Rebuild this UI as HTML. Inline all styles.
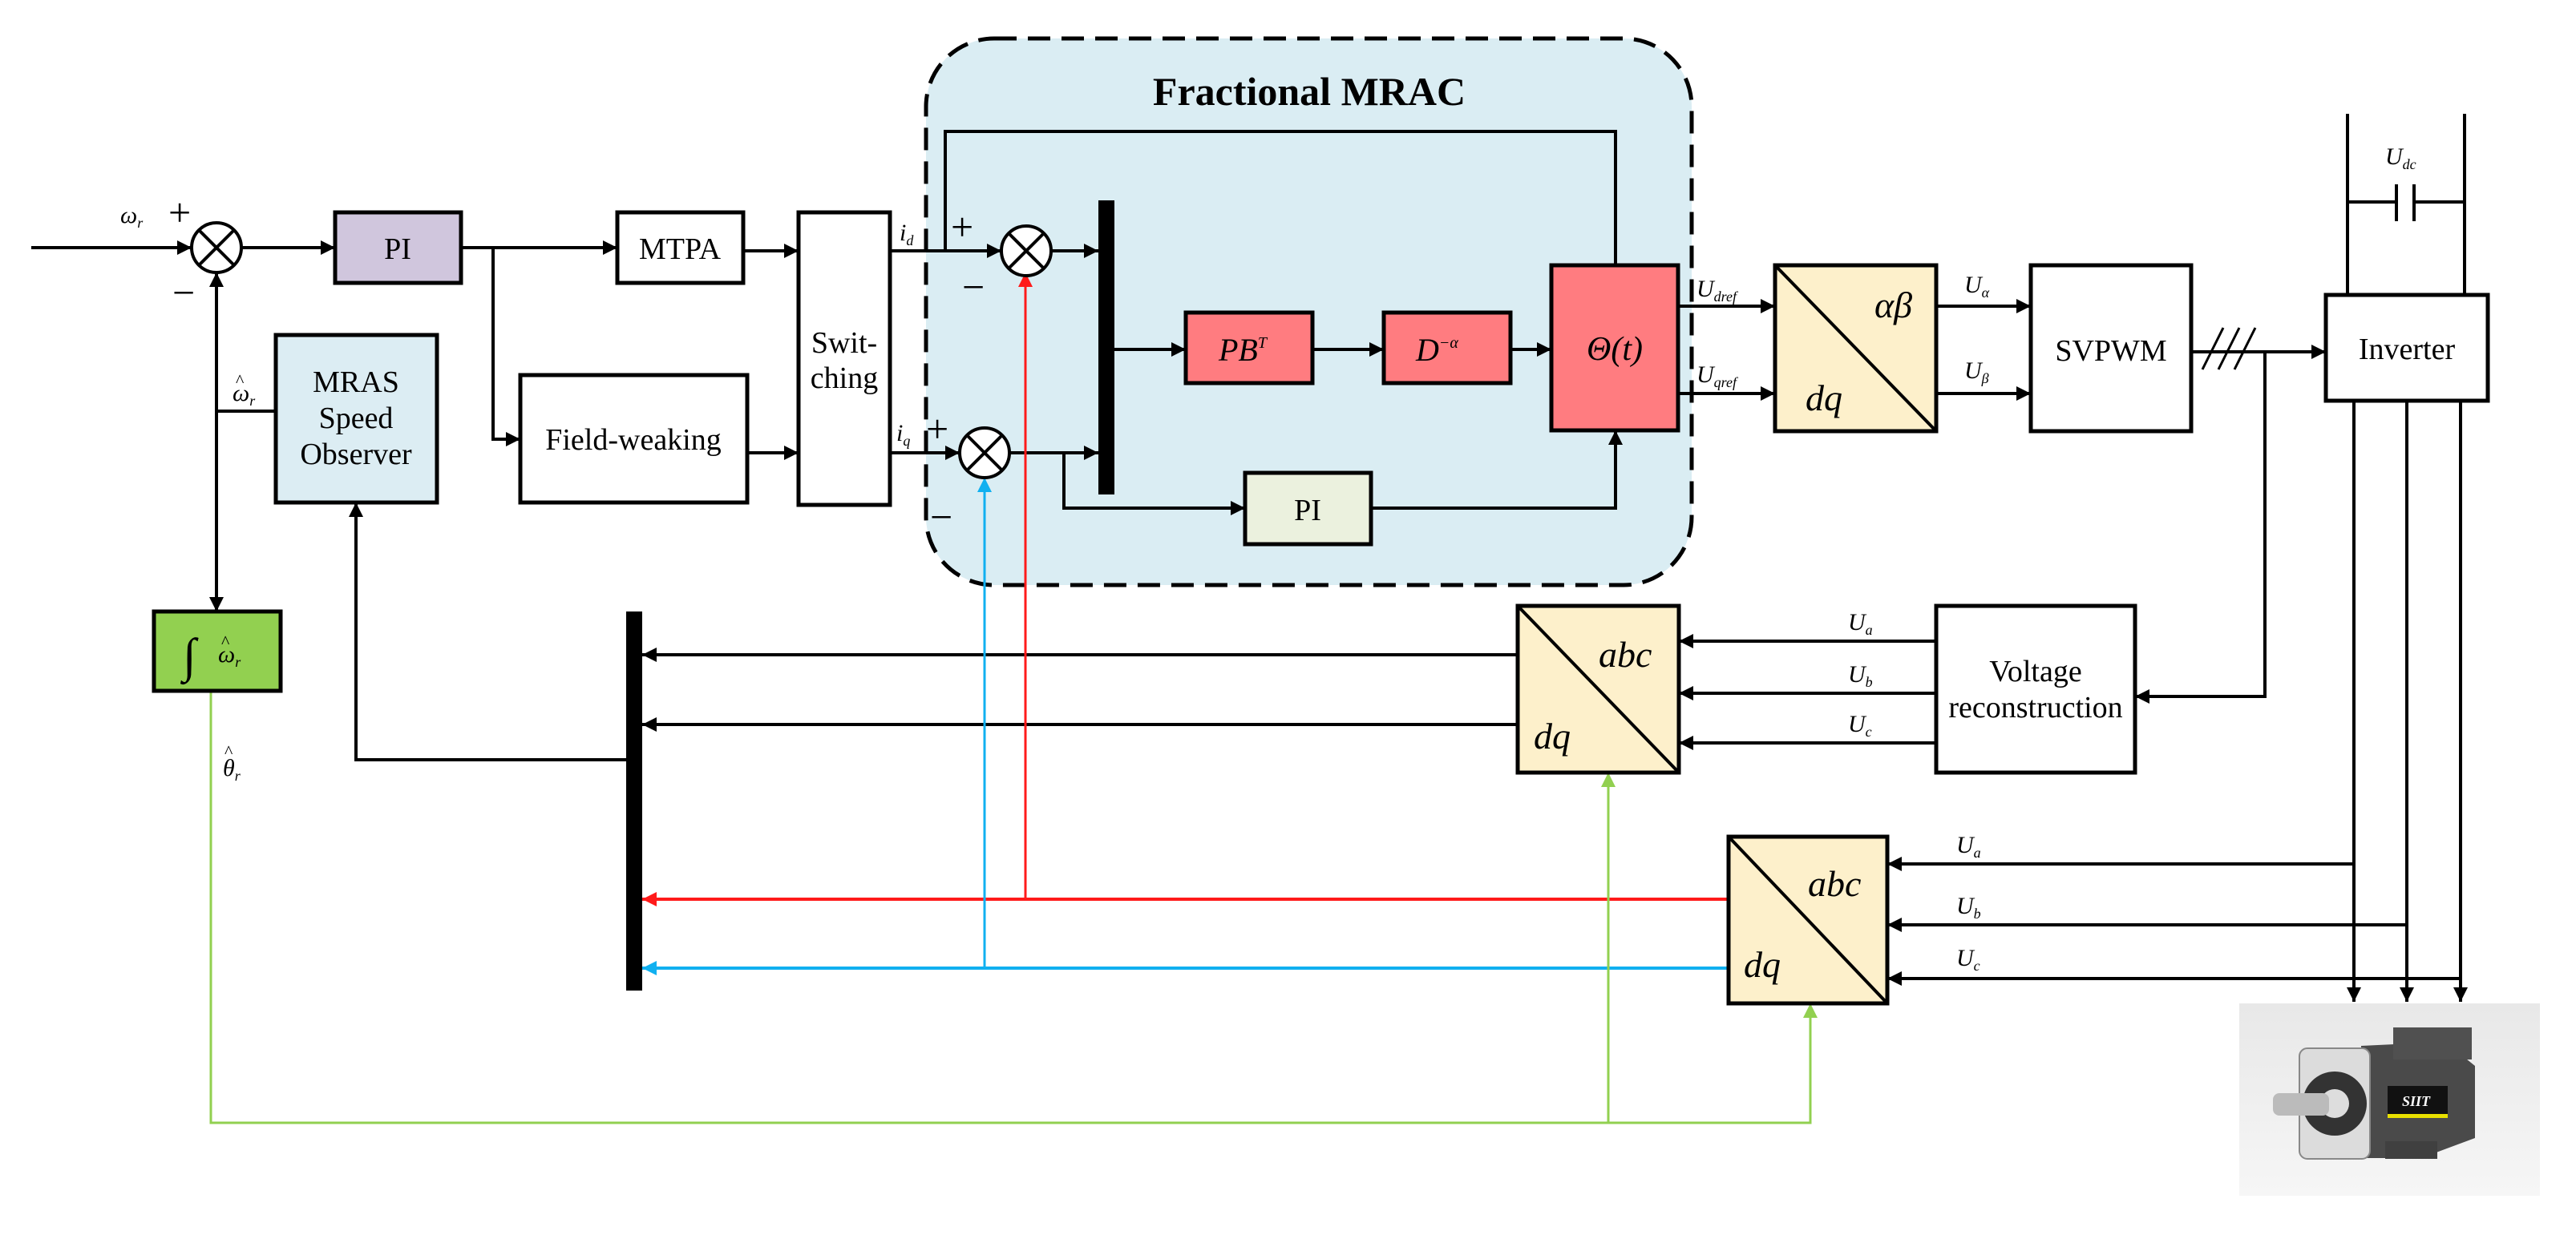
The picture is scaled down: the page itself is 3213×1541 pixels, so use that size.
<!DOCTYPE html>
<html><head><meta charset="utf-8"><style>
html,body{margin:0;padding:0;background:#fff}
svg{display:block}
text{font-family:"Liberation Serif",serif;fill:#000}
.m{font-style:italic}
</style></head><body>
<svg width="3213" height="1541" viewBox="0 0 3213 1541" xmlns="http://www.w3.org/2000/svg">
<defs>
<marker id="a" viewBox="0 0 10 10" refX="10" refY="5" markerWidth="18" markerHeight="18" markerUnits="userSpaceOnUse" orient="auto"><path d="M0,0L10,5L0,10z" fill="#000"/></marker>
<marker id="ar" viewBox="0 0 10 10" refX="10" refY="5" markerWidth="18" markerHeight="18" markerUnits="userSpaceOnUse" orient="auto"><path d="M0,0L10,5L0,10z" fill="#ff1a1a"/></marker>
<marker id="ab" viewBox="0 0 10 10" refX="10" refY="5" markerWidth="18" markerHeight="18" markerUnits="userSpaceOnUse" orient="auto"><path d="M0,0L10,5L0,10z" fill="#10b0f0"/></marker>
<marker id="ag" viewBox="0 0 10 10" refX="10" refY="5" markerWidth="18" markerHeight="18" markerUnits="userSpaceOnUse" orient="auto"><path d="M0,0L10,5L0,10z" fill="#92d050"/></marker>
<linearGradient id="bg" x1="0" y1="0" x2="0" y2="1"><stop offset="0" stop-color="#e8e8e8"/><stop offset="1" stop-color="#f6f6f6"/></linearGradient>
</defs>

<rect x="1155" y="48" width="955" height="682" rx="85" fill="#daedf3" stroke="#000" stroke-width="5" stroke-dasharray="28,14"/>
<text x="1633" y="131" font-size="50" font-weight="bold" text-anchor="middle">Fractional MRAC</text>

<g stroke="#000" stroke-width="4" fill="none">
<line x1="39" y1="309" x2="239" y2="309" marker-end="url(#a)"/>
<line x1="301" y1="309" x2="418" y2="309" marker-end="url(#a)"/>
<line x1="575" y1="309" x2="770" y2="309" marker-end="url(#a)"/>
<polyline points="615,309 615,548 649,548" marker-end="url(#a)"/>
<line x1="927" y1="313" x2="996" y2="313" marker-end="url(#a)"/>
<line x1="932" y1="565" x2="996" y2="565" marker-end="url(#a)"/>
<line x1="270" y1="513" x2="270" y2="340" marker-end="url(#a)"/>
<line x1="270" y1="513" x2="270" y2="763" marker-end="url(#a)"/>
<line x1="270" y1="513" x2="344" y2="513"/>
<polyline points="781,948 444,948 444,627" marker-end="url(#a)"/>
<line x1="1110" y1="313" x2="1249" y2="313" marker-end="url(#a)"/>
<line x1="1110" y1="565" x2="1197" y2="565" marker-end="url(#a)"/>
<polyline points="1179,313 1179,164 2015,164 2015,331"/>
<line x1="1311" y1="313" x2="1370" y2="313" marker-end="url(#a)"/>
<line x1="1259" y1="565" x2="1370" y2="565" marker-end="url(#a)"/>
<polyline points="1327,565 1327,634 1553,634" marker-end="url(#a)"/>
<line x1="1390" y1="436" x2="1479" y2="436" marker-end="url(#a)"/>
<line x1="1637" y1="436" x2="1726" y2="436" marker-end="url(#a)"/>
<line x1="1884" y1="436" x2="1935" y2="436" marker-end="url(#a)"/>
<polyline points="1710,634 2015,634 2015,537" marker-end="url(#a)"/>
<line x1="2093" y1="382" x2="2214" y2="382" marker-end="url(#a)"/>
<line x1="2093" y1="491" x2="2214" y2="491" marker-end="url(#a)"/>
<line x1="2415" y1="382" x2="2533" y2="382" marker-end="url(#a)"/>
<line x1="2415" y1="491" x2="2533" y2="491" marker-end="url(#a)"/>
<line x1="2733" y1="439" x2="2901" y2="439" marker-end="url(#a)"/>
<line x1="2747" y1="461" x2="2773" y2="409" stroke-width="3"/>
<line x1="2767" y1="461" x2="2793" y2="409" stroke-width="3"/>
<line x1="2787" y1="461" x2="2813" y2="409" stroke-width="3"/>
<polyline points="2825,439 2825,869 2663,869" marker-end="url(#a)"/>
<line x1="2928" y1="142" x2="2928" y2="368"/>
<line x1="3074" y1="142" x2="3074" y2="368"/>
<line x1="2928" y1="252" x2="2989" y2="252"/>
<line x1="3011" y1="252" x2="3074" y2="252"/>
<line x1="2989" y1="230" x2="2989" y2="276"/>
<line x1="3011" y1="230" x2="3011" y2="276"/>
<line x1="2936" y1="500" x2="2936" y2="1250" marker-end="url(#a)"/>
<line x1="3002" y1="500" x2="3002" y2="1250" marker-end="url(#a)"/>
<line x1="3069" y1="500" x2="3069" y2="1250" marker-end="url(#a)"/>
<line x1="2936" y1="1078" x2="2354" y2="1078" marker-end="url(#a)"/>
<line x1="3002" y1="1154" x2="2354" y2="1154" marker-end="url(#a)"/>
<line x1="3069" y1="1221" x2="2354" y2="1221" marker-end="url(#a)"/>
<line x1="2415" y1="800" x2="2094" y2="800" marker-end="url(#a)"/>
<line x1="2415" y1="865" x2="2094" y2="865" marker-end="url(#a)"/>
<line x1="2415" y1="927" x2="2094" y2="927" marker-end="url(#a)"/>
<line x1="1893" y1="817" x2="801" y2="817" marker-end="url(#a)"/>
<line x1="1893" y1="904" x2="801" y2="904" marker-end="url(#a)"/>
</g>

<g fill="none" stroke-width="4">
<line x1="2156" y1="1122" x2="801" y2="1122" stroke="#ff1a1a" marker-end="url(#ar)"/>
<line x1="1279" y1="1122" x2="1279" y2="340" stroke="#ff1a1a" stroke-width="3" marker-end="url(#ar)"/>
<line x1="2156" y1="1208" x2="801" y2="1208" stroke="#10b0f0" marker-end="url(#ab)"/>
<line x1="1228" y1="1208" x2="1228" y2="596" stroke="#10b0f0" stroke-width="3" marker-end="url(#ab)"/>
<polyline points="263,862 263,1401 2258,1401 2258,1252" stroke="#92d050" stroke-width="3" marker-end="url(#ag)"/>
<line x1="2006" y1="1401" x2="2006" y2="964" stroke="#92d050" stroke-width="3" marker-end="url(#ag)"/>
</g>

<g stroke="#000" stroke-width="5">
<rect x="418" y="265" width="157" height="88" fill="#d0c6dd"/>
<rect x="770" y="265" width="157" height="88" fill="#fff"/>
<rect x="996" y="265" width="114" height="365" fill="#fff"/>
<rect x="649" y="468" width="283" height="159" fill="#fff"/>
<rect x="344" y="418" width="201" height="209" fill="#dcedf3"/>
<rect x="192" y="763" width="158" height="99" fill="#92d050"/>
<rect x="1479" y="390" width="158" height="88" fill="#ff7c80"/>
<rect x="1726" y="390" width="158" height="88" fill="#ff7c80"/>
<rect x="1935" y="331" width="158" height="206" fill="#ff7c80"/>
<rect x="1553" y="590" width="157" height="89" fill="#ebf1de"/>
<rect x="2214" y="331" width="201" height="207" fill="#fdf0cb"/>
<rect x="2533" y="331" width="200" height="207" fill="#fff"/>
<rect x="2901" y="368" width="202" height="132" fill="#fff"/>
<rect x="1893" y="756" width="201" height="208" fill="#fdf0cb"/>
<rect x="2415" y="756" width="248" height="208" fill="#fff"/>
<rect x="2156" y="1044" width="198" height="208" fill="#fdf0cb"/>
</g>
<g stroke="#000" stroke-width="4">
<line x1="2214" y1="331" x2="2415" y2="538"/>
<line x1="1893" y1="756" x2="2094" y2="964"/>
<line x1="2156" y1="1044" x2="2354" y2="1252"/>
</g>
<rect x="781" y="763" width="20" height="473" fill="#000"/>
<rect x="1370" y="250" width="20" height="367" fill="#000"/>

<g stroke="#000" stroke-width="4" fill="#fff">
<circle cx="270" cy="309" r="31"/><path d="M248,287L292,331M292,287L248,331"/>
<circle cx="1280" cy="313" r="31"/><path d="M1258,291L1302,335M1302,291L1258,335"/>
<circle cx="1228" cy="565" r="31"/><path d="M1206,543L1250,587M1250,543L1206,587"/>
</g>

<g font-size="38">
<text x="496" y="323" text-anchor="middle">PI</text>
<text x="848" y="323" text-anchor="middle">MTPA</text>
<text x="1053" y="440" text-anchor="middle">Swit-</text>
<text x="1053" y="484" text-anchor="middle">ching</text>
<text x="790" y="561" text-anchor="middle">Field-weaking</text>
<text x="444" y="489" text-anchor="middle">MRAS</text>
<text x="444" y="534" text-anchor="middle">Speed</text>
<text x="444" y="579" text-anchor="middle">Observer</text>
<text x="1631" y="649" text-anchor="middle">PI</text>
<text x="2633" y="450" text-anchor="middle">SVPWM</text>
<text x="3002" y="448" text-anchor="middle">Inverter</text>
<text x="2539" y="850" text-anchor="middle">Voltage</text>
<text x="2539" y="895" text-anchor="middle">reconstruction</text>
</g>
<g font-size="50">
<text x="210" y="282">+</text><text x="215" y="382">−</text>
<text x="1186" y="300">+</text><text x="1200" y="375">−</text>
<text x="1155" y="552">+</text><text x="1160" y="662">−</text>
</g>
<g class="m" font-size="30">
<text x="150" y="278">ω<tspan font-size="18" dy="6">r</tspan></text>
<text x="290" y="500">ω<tspan font-size="18" dy="6">r</tspan></text>
<text x="294" y="482" font-style="normal" font-size="22">^</text>
<text x="278" y="968">θ<tspan font-size="18" dy="6">r</tspan></text>
<text x="280" y="945" font-style="normal" font-size="22">^</text>
<text x="1122" y="300">i<tspan font-size="18" dy="6">d</tspan></text>
<text x="1118" y="550">i<tspan font-size="18" dy="6">q</tspan></text>
<text x="2116" y="370">U<tspan font-size="18" dy="6">dref</tspan></text>
<text x="2116" y="477">U<tspan font-size="18" dy="6">qref</tspan></text>
<text x="2450" y="365">U<tspan font-size="18" dy="6">α</tspan></text>
<text x="2450" y="472">U<tspan font-size="18" dy="6">β</tspan></text>
<text x="2975" y="205">U<tspan font-size="18" dy="6">dc</tspan></text>
<text x="2305" y="786">U<tspan font-size="18" dy="6">a</tspan></text>
<text x="2305" y="851">U<tspan font-size="18" dy="6">b</tspan></text>
<text x="2305" y="913">U<tspan font-size="18" dy="6">c</tspan></text>
<text x="2440" y="1064">U<tspan font-size="18" dy="6">a</tspan></text>
<text x="2440" y="1140">U<tspan font-size="18" dy="6">b</tspan></text>
<text x="2440" y="1205">U<tspan font-size="18" dy="6">c</tspan></text>
</g>
<text x="228" y="838" font-size="60" class="m">∫</text>
<text x="272" y="826" font-size="30" class="m">ω<tspan font-size="18" dy="6">r</tspan></text>
<text x="276" y="808" font-size="22">^</text>
<text x="1520" y="450" font-size="40" class="m">PB<tspan font-size="20" dy="-16">T</tspan></text>
<text x="1766" y="450" font-size="40" class="m">D<tspan font-size="20" dy="-16">−α</tspan></text>
<text x="2014" y="449" font-size="42" text-anchor="middle" class="m">Θ(t)</text>
<text x="2338" y="396" font-size="46" class="m">αβ</text>
<text x="2252" y="512" font-size="46" class="m">dq</text>
<text x="1994" y="832" font-size="46" class="m">abc</text>
<text x="1913" y="934" font-size="46" class="m">dq</text>
<text x="2255" y="1118" font-size="46" class="m">abc</text>
<text x="2175" y="1219" font-size="46" class="m">dq</text>

<rect x="2793" y="1252" width="375" height="240" fill="url(#bg)"/>
<path d="M2945,1305 L3050,1300 L3087,1330 L3087,1420 L3020,1445 L2945,1445z" fill="#4a4a4a"/>
<rect x="2985" y="1282" width="98" height="40" fill="#505050"/>
<rect x="2975" y="1424" width="65" height="22" fill="#404040"/>
<rect x="2868" y="1308" width="88" height="138" rx="10" fill="#dcdcdc" stroke="#888" stroke-width="2"/>
<circle cx="2912" cy="1377" r="40" fill="#333"/>
<circle cx="2912" cy="1377" r="18" fill="#ddd"/>
<rect x="2835" y="1364" width="70" height="28" rx="8" fill="#bbb"/>
<rect x="2978" y="1355" width="75" height="35" fill="#111"/>
<text x="2996" y="1380" font-size="18" font-style="italic" font-weight="bold" style="fill:#fff">SIIT</text>
<rect x="2978" y="1390" width="75" height="5" fill="#e8e000"/>
</svg>
</body></html>
